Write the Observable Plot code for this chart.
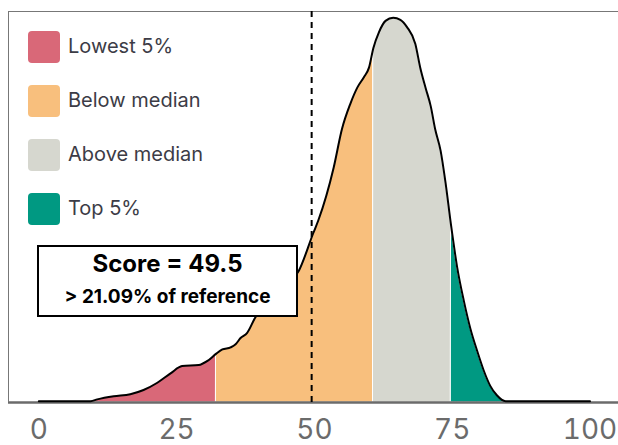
<!DOCTYPE html>
<html><head><meta charset="utf-8">
<script src="https://cdn.jsdelivr.net/npm/d3@7"></script>
<script src="https://cdn.jsdelivr.net/npm/@observablehq/plot@0.6"></script>
<style>
body{margin:0;background:#fff;font-family:Inter,sans-serif;}
#wrap{position:relative;width:618px;height:445px;overflow:hidden;}
#legend{position:absolute;left:28px;top:31px;}
.row{display:flex;align-items:center;height:32px;margin-bottom:22px;}
.sw{width:32px;height:32px;border-radius:4px;margin-right:8px;}
.lab{font-size:20px;line-height:30px;color:#3c3c46;position:relative;top:-1px;}
#box{position:absolute;left:37px;top:245px;width:261px;height:72px;box-sizing:border-box;border:2px solid #000;background:#fff;text-align:center;color:#000;font-weight:700;}
#l1{font-size:24px;line-height:30px;padding-top:2px;}
#l2{font-size:19px;line-height:36px;}
</style></head><body><div id="wrap"></div>
<script>
// density curve
const scoreX = [0, 9.4, 10.6, 13.6, 16.6, 19.0, 21.5, 23.9, 26.0, 29.0, 30.6, 32.2, 33.3, 34.8, 35.7, 36.6, 37.8, 39.3, 41.0, 43.0, 45.0, 47.2, 49.8, 50.7, 53.5, 55.0, 56.5, 57.8, 59.0, 59.9, 60.7, 61.7, 62.9, 64.3, 65.6, 66.8, 68.3, 69.2, 70.2, 71.1, 71.9, 72.9, 73.8, 74.8, 75.9, 77.1, 78.3, 79.5, 80.7, 81.9, 83.1, 84.7, 100];
const density = [0.00013, 0.00013, 0.0003, 0.0006, 0.0008, 0.0012, 0.0019, 0.0028, 0.0035, 0.0036, 0.0040, 0.0047, 0.0051, 0.0053, 0.0056, 0.0062, 0.0067, 0.0082, 0.0093, 0.0102, 0.0112, 0.0127, 0.0163, 0.0175, 0.0226, 0.0263, 0.0287, 0.0303, 0.0313, 0.0322, 0.0341, 0.0356, 0.0367, 0.0370, 0.0368, 0.0361, 0.0345, 0.0322, 0.0302, 0.0285, 0.0263, 0.0242, 0.0211, 0.0170, 0.0130, 0.0098, 0.0071, 0.0050, 0.0031, 0.0016, 0.0007, 0.00013, 0.00013];
const categories = ["Lowest 5%", "Below median", "Above median", "Top 5%"];
const colors = ["#d96878", "#f8bf7d", "#d6d7cf", "#009982"];
const bounds = [0, 32.2, 60.7, 74.8, 100];
const score = [49.5];
const percentile = [21.09];
const xTicks = [0, 25, 50, 75, 100];

const pts = scoreX.map((x, i) => ({x, y: density[i]}));
const regions = categories.map((c, i) =>
  pts.filter(p => p.x >= bounds[i] && p.x <= bounds[i + 1]).map(p => ({...p, cat: c})));

const xDomain = [-5.5, 105.17];
const yMax = 0.0376;

const plot = Plot.plot({
  width: 618, height: 445,
  marginLeft: 8, marginRight: 0, marginTop: 11, marginBottom: 43,
  style: {fontFamily: "Inter, sans-serif", color: "#6b6b6b", background: "white"},
  x: {domain: xDomain, axis: null, label: null},
  y: {domain: [0, yMax], axis: null, label: null},
  color: {domain: categories, range: colors},
  marks: [
    ...regions.map(r => Plot.areaY(r, {x: "x", y: "y", fill: "cat", curve: "monotone-x", stroke: "white", strokeWidth: 1})),
    Plot.ruleY([0], {stroke: "#6b6b6b", strokeWidth: 2.5}),
    Plot.ruleX([xDomain[0]], {stroke: "#777", strokeWidth: 1}),
    Plot.ruleY([yMax], {stroke: "#777", strokeWidth: 1}),
    Plot.line(pts, {x: "x", y: "y", curve: "monotone-x", stroke: "black", strokeWidth: 2}),
    Plot.ruleX(score, {stroke: "black", strokeWidth: 2, strokeDasharray: "6,5"}),
    Plot.axisX({ticks: xTicks, tickSize: 0, tickPadding: 17, fontSize: 28, label: null, tickFormat: d => String(d)})
  ]
});
const wrap = document.getElementById("wrap");
wrap.appendChild(plot);

const legend = document.createElement("div");
legend.id = "legend";
categories.forEach((c, i) => {
  const row = document.createElement("div");
  row.className = "row";
  row.innerHTML = `<div class="sw" style="background:${colors[i]}"></div><div class="lab"></div>`;
  row.querySelector(".lab").textContent = c;
  legend.appendChild(row);
});
wrap.appendChild(legend);

const box = document.createElement("div");
box.id = "box";
box.innerHTML = `<div id="l1">Score = ${score[0]}</div><div id="l2">&gt; ${percentile[0].toFixed(2)}% of reference</div>`;
wrap.appendChild(box);
</script>
</body></html>
